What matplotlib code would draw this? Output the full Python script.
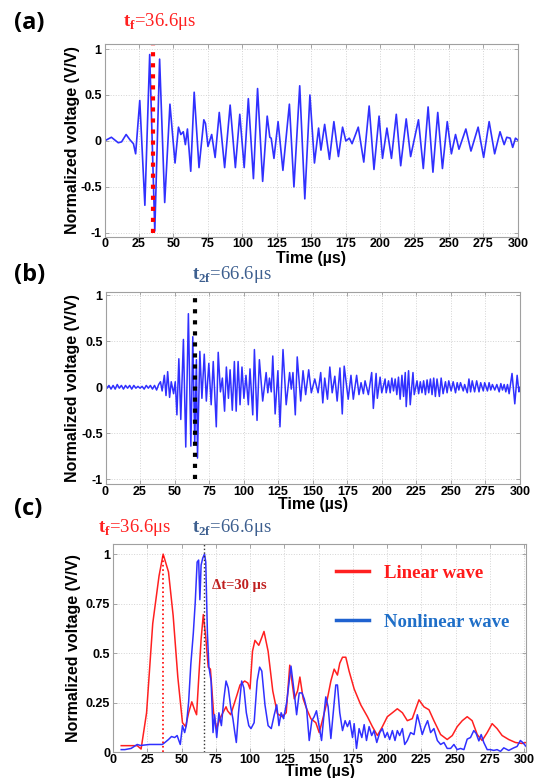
import matplotlib
matplotlib.use('Agg')
from matplotlib import pyplot as plt

plt.rcParams['mathtext.fontset'] = 'custom'
plt.rcParams['mathtext.rm'] = 'Liberation Serif'
plt.rcParams['mathtext.bf'] = 'Liberation Serif:bold'

SANS = 'Liberation Sans'
SERIF = 'Liberation Serif'

# ---- (a) linear wave, peaks/troughs ----
t_a = [0, 5, 10, 12.4, 15.7, 18.6, 21, 22.6, 25.6, 29.3, 32.8, 36.5, 40, 43.7, 47.5, 51.2,
       53.7, 55.4, 57.2, 58.7, 60.2, 62.6, 65.1, 68.6, 72.1, 73.3, 75.1, 77.8, 80.3, 83.3,
       87.2, 91.2, 95, 98.2, 101.4, 104.4, 108.1, 111.1, 114.8, 118.1, 120, 121, 123, 126,
       129.5, 134.2, 137.5, 141.7, 145.4, 149.1, 152.4, 155.4, 157.1, 159.8, 163.3, 166.5,
       169.8, 172.8, 175.2, 177.7, 179.7, 184.2, 188.2, 192.1, 195.6, 199.3, 201.8, 205,
       208.3, 211.8, 215, 219, 222.2, 227.9, 231.4, 234.9, 238.4, 241.9, 245.3, 248.8,
       251.8, 254.8, 257.3, 262.3, 266, 271.2, 275.2, 279.2, 283.2, 287.1, 290.1, 292,
       294.5, 296.3, 298.3, 300]
v_a = [0, 0.04, -0.02, -0.01, 0.07, 0.01, -0.03, -0.14, 0.44, -0.70, 0.94, -0.98, 0.89, -0.67,
       0.40, -0.24, 0.15, 0.07, 0.10, -0.04, 0.13, -0.33, 0.53, -0.29, 0.23, 0.19, -0.06,
       0.07, -0.18, 0.31, -0.29, 0.39, -0.29, 0.29, -0.29, 0.46, -0.41, 0.57, -0.44, 0.27,
       0.04, 0.03, -0.19, 0.21, -0.32, 0.40, -0.50, 0.60, -0.63, 0.50, -0.24, 0.14, -0.10,
       0.18, -0.20, 0.21, -0.17, 0.15, 0.00, 0.03, -0.03, 0.15, -0.23, 0.38, -0.31, 0.27,
       -0.19, 0.14, -0.19, 0.29, -0.27, 0.24, -0.17, 0.23, -0.30, 0.37, -0.34, 0.31, -0.30,
       0.21, -0.14, 0.07, -0.09, 0.13, -0.11, 0.15, -0.18, 0.21, -0.14, 0.10, -0.04, 0.04,
       0.03, -0.07, 0.03, 0.01]

# ---- (b) nonlinear wave ----
t_b_quiet = [0, 1.2, 2.5, 4, 5.5, 7, 8.5, 10, 11.5, 13, 14.5, 16, 17.5, 19, 20.5, 22, 23.5,
             25, 26.5, 28, 29.5, 31, 32.5, 34, 35.5, 37, 38.5]
v_b_quiet = [0.04, -0.01, 0.02, -0.02, 0.02, -0.02, 0.03, -0.01, 0.02, -0.02, 0.02, -0.01,
             0.02, -0.02, 0.02, -0.01, 0.01, -0.01, 0.01, -0.02, 0.02, -0.01, 0.02, -0.02,
             0.02, -0.03, 0.03]
t_b_burst = [39.8, 41, 42.6, 43.8, 45, 46.4, 47.6, 49.3, 50.5, 51.7, 53.1, 54.5, 56.4, 58.1,
             60, 61.8, 63.2, 64.6, 65.8, 66.6, 68.3, 69.8, 71.5, 73, 74.8, 76.5, 78, 80.2,
             81.6, 83.2, 84.6, 86.2, 87.5, 89, 90.2, 91.8, 93.3]
v_b_burst = [0.06, -0.04, 0.13, -0.09, 0.17, -0.11, 0.06, -0.07, 0.06, -0.30, 0.31, -0.35,
             0.52, -0.65, 0.80, -0.64, 0.55, -0.62, 0.30, -0.77, 0.39, -0.12, 0.36, -0.15,
             0.26, -0.19, 0.28, -0.43, 0.38, -0.05, 0.10, -0.26, 0.22, -0.12, 0.19, -0.25, 0.28]
t_b_mid = [94.6, 96, 97.4, 98.8, 100.2, 101.7, 103.4, 104.6, 106.6, 107.8, 109.7, 111.4, 113.8,
           116.3, 117.5, 118.7, 120, 121.1, 122.8, 124.8, 126.3, 128.5, 130.8, 133.3, 134.5,
           135.7, 137.4, 138.8, 141.3, 143, 144.9, 147.1, 149, 151.5, 153.9, 155.8, 157.3,
           158.7, 160.7, 162.4, 164.1, 166, 167.7, 169.7, 171.4, 172.8, 175.7, 177.7, 179.4,
           181.8, 183.5, 185, 186.7, 187.9, 190.3]
v_b_mid = [-0.26, 0.28, -0.19, 0.22, -0.12, 0.13, -0.19, 0.20, -0.30, 0.41, -0.36, 0.30, -0.15,
           0.16, -0.06, 0.10, -0.05, 0.34, -0.29, 0.18, -0.43, 0.41, -0.19, 0.16, -0.02, 0.16,
           -0.30, 0.33, -0.15, 0.18, -0.08, 0.19, -0.06, 0.09, -0.06, 0.16, -0.17, 0.10, -0.13,
           0.22, -0.06, 0.12, -0.15, 0.21, -0.29, 0.23, -0.13, 0.13, -0.13, 0.13, -0.08, 0.05,
           -0.07, 0.07, -0.08]
t_b_tail = [192.7, 193.9, 195.9, 196.8, 198.8, 200, 202.4, 203.2, 204.9, 206.1, 207.3, 208.5,
            209.7, 210.9, 212.1, 213.3, 214.6, 215.8, 217, 217.7, 219.4, 220.6, 222.6, 223.5,
            225.5, 226.7, 227.9, 229.1, 230.3, 231.6, 232.8, 234, 235.2, 236.4, 237.6, 238.8,
            240, 241.7, 243, 244.4, 246.1, 247.3, 248.5, 250.2, 251.7, 253.4, 254.6, 255.8,
            257, 259, 260, 261.9, 263.1, 264.3, 265.5, 267.2, 268.7, 270.4, 271.6, 273.5,
            274.5, 276.5, 277.7, 278.9, 280.1, 281.8, 283.3, 285, 286.2, 287.4, 288.6, 289.8,
            291, 292.2, 294.3, 296.3, 298, 299.3, 300]
v_b_tail = [0.16, -0.23, 0.15, -0.12, 0.11, -0.06, 0.09, -0.06, 0.07, -0.06, 0.10, -0.04, 0.09,
            -0.08, 0.11, -0.13, 0.13, -0.10, 0.16, -0.21, 0.18, -0.19, 0.16, -0.08, 0.07, -0.07,
            0.06, -0.06, 0.07, -0.08, 0.08, -0.06, 0.09, -0.08, 0.10, -0.10, 0.09, -0.10, 0.10,
            -0.07, 0.06, -0.06, 0.07, -0.04, 0.06, -0.06, 0.05, -0.03, 0.05, -0.04, 0.03, -0.06,
            0.09, -0.05, 0.07, -0.05, 0.07, -0.05, 0.05, -0.04, 0.05, -0.04, 0.05, -0.03, 0.03,
            -0.03, 0.03, -0.05, 0.04, -0.03, 0.03, -0.05, 0.03, -0.07, 0.15, -0.18, 0.13, -0.05,
            0.0]

# ---- (c) envelopes ----
t_c_lin = [6, 8.6, 17.7, 20.5, 24.5, 29, 33.6, 36.6, 40.5, 43.9, 47.3, 50.7, 53, 55.2, 57.5,
           59.8, 61, 62.7, 64.3, 65.9, 67.7, 69.5, 71.1, 73.4, 75.7, 78, 80.2, 82.5, 83.6,
           85.9, 88.2, 90.5, 92.7, 96.1, 98.4, 100, 101.8, 103.6, 106.4, 108.6, 110.2, 113.2,
           116.6, 120, 123.4, 126.4, 129, 132.3, 134.7, 136.4, 138.8, 141.3, 144.4, 148, 150.5,
           152.4, 155.3, 159, 161.4, 163.8, 165.5, 167.5, 169.9, 172.3, 176, 180.8, 185.7,
           189.3, 193, 196.6, 200.2, 203.9, 207.5, 211.2, 214.8, 218.4, 223.3, 226.9, 230.6,
           234.2, 239.1, 243.9, 247.6, 251.2, 254.9, 258.5, 262.1, 265.8, 269.4, 273.1, 276.7,
           280.3, 284, 288.8, 293.7, 298.5, 301.5]
v_c_lin = [0.034, 0.034, 0.034, 0.017, 0.20, 0.65, 0.89, 1.0, 0.91, 0.69, 0.38, 0.15, 0.13,
           0.20, 0.255, 0.21, 0.19, 0.39, 0.57, 0.695, 0.58, 0.43, 0.42, 0.20, 0.12, 0.17, 0.20,
           0.23, 0.21, 0.19, 0.24, 0.29, 0.34, 0.36, 0.35, 0.32, 0.51, 0.565, 0.54, 0.58, 0.61,
           0.51, 0.31, 0.195, 0.18, 0.20, 0.44, 0.27, 0.31, 0.38, 0.27, 0.22, 0.17, 0.15, 0.10,
           0.15, 0.23, 0.36, 0.42, 0.39, 0.45, 0.48, 0.48, 0.41, 0.32, 0.24, 0.18, 0.13, 0.085,
           0.13, 0.18, 0.20, 0.22, 0.20, 0.16, 0.17, 0.265, 0.23, 0.215, 0.16, 0.09, 0.065,
           0.085, 0.13, 0.16, 0.18, 0.16, 0.09, 0.06, 0.10, 0.145, 0.12, 0.085, 0.065, 0.05,
           0.045, 0.05]
t_c_nl = [6, 8.6, 13.2, 17.7, 20, 26.8, 35.9, 37, 40.5, 42.7, 45, 46.8, 49.1, 50.7, 52.3, 53.6,
          55.2, 56.8, 58.6, 60, 61.4, 62.5, 63.4, 64.3, 65.5, 66.8, 67.7, 68.9, 70, 71.6, 73,
          74.1, 75.7, 77.3, 79.1, 80.9, 82.5, 84.1, 85.9, 87.5, 88.9, 90, 91.6, 93.9, 95.5,
          97.3, 99.1, 100.7, 103, 105.2, 107, 108.6, 110.9, 113.2, 115.5, 117.7, 119.5, 121.1,
          122.7, 124.5, 126.8, 129.9, 132.3, 134, 135.9, 137.9, 139.6, 141.3, 143.2, 145.1,
          146.8, 148.5, 150.5, 152.2, 154.1, 155.3, 157, 159, 160.7, 162.6, 163.8, 165.5,
          167.5, 169.4, 171.1, 172.8, 174.8, 176, 177.7, 179.6, 181.6, 183.3, 185, 186.9,
          188.8, 190.5, 192.5, 194.7, 196.6, 198.5, 200.2, 201.9, 203.9, 205.8, 207.5, 209.2,
          211.2, 212.9, 214.8, 217.2, 219.7, 222.1, 223.8, 225.7, 227.7, 229.6, 231.8, 234.2,
          236.7, 239.1, 241.5, 243.9, 246.4, 248.8, 251.2, 253.6, 256.1, 258.5, 260.9, 263.3,
          265, 267, 268.7, 270.6, 273.1, 275.5, 277.9, 280.3, 282.8, 285.2, 288.8, 292.5,
          294.9, 297.3, 299, 301.5]
v_c_nl = [0.014, 0.014, 0.02, 0.04, 0.035, 0.04, 0.04, 0.045, 0.065, 0.08, 0.075, 0.085, 0.04,
          0.135, 0.10, 0.14, 0.255, 0.445, 0.60, 0.755, 0.96, 0.97, 0.77, 0.945, 0.98, 1.0,
          0.96, 0.60, 0.43, 0.36, 0.10, 0.19, 0.075, 0.20, 0.135, 0.27, 0.36, 0.325, 0.23,
          0.17, 0.10, 0.05, 0.20, 0.36, 0.325, 0.20, 0.135, 0.12, 0.15, 0.36, 0.43, 0.41, 0.24,
          0.135, 0.12, 0.19, 0.24, 0.135, 0.20, 0.17, 0.255, 0.435, 0.30, 0.19, 0.30, 0.30,
          0.27, 0.22, 0.06, 0.16, 0.18, 0.21, 0.13, 0.06, 0.20, 0.28, 0.23, 0.07, 0.20, 0.34,
          0.34, 0.20, 0.11, 0.16, 0.13, 0.16, 0.075, 0.145, 0.02, 0.12, 0.075, 0.14, 0.06,
          0.13, 0.085, 0.11, 0.05, 0.10, 0.12, 0.075, 0.10, 0.065, 0.11, 0.06, 0.11, 0.085,
          0.12, 0.04, 0.06, 0.10, 0.09, 0.19, 0.145, 0.09, 0.13, 0.16, 0.10, 0.12, 0.06, 0.04,
          0.05, 0.02, 0.02, 0.04, 0.014, 0.02, 0.014, 0.067, 0.075, 0.11, 0.096, 0.058, 0.09,
          0.05, 0.014, 0.014, 0.01, 0.014, 0.005, 0.023, 0.01, 0.023, 0.03, 0.06, 0.05, 0.03]

x_ticks = list(range(0, 301, 25))
t_first = 36.6      # µs
t_second = 66.6     # µs

WAVE_BLUE = '#3030ff'
RED = '#ff2020'


def style_axes(ax, xlim, ylim, yticks, yticklabels, ylab_x, xlab_y):
    ax.set_xlim(*xlim)
    ax.set_ylim(*ylim)
    ax.set_xticks(x_ticks)
    ax.set_xticklabels([str(t) for t in x_ticks], fontfamily=SANS, fontweight='bold', fontsize=9)
    ax.set_yticks(yticks)
    ax.set_yticklabels(yticklabels, fontfamily=SANS, fontweight='bold', fontsize=9)
    ax.grid(True, color='#d4d4d4', linestyle=':', linewidth=0.7)
    ax.tick_params(direction='in', length=3, width=0.6, color='#999999',
                   top=True, right=True)
    ax.tick_params(axis='x', pad=1.0)
    ax.tick_params(axis='y', pad=2.0)
    for s in ax.spines.values():
        s.set_color('#a0a0a0')
        s.set_linewidth(0.8)
    ax.set_ylabel('Normalized voltage (V/V)', fontfamily=SANS, fontweight='bold', fontsize=11.5)
    ax.set_xlabel('Time (µs)', fontfamily=SANS, fontweight='bold', fontsize=11.5)
    ax.yaxis.set_label_coords(ylab_x, 0.5)
    ax.xaxis.set_label_coords(0.5, xlab_y)


fig = plt.figure(figsize=(5.37, 7.78), dpi=100)
W, H = 537.0, 778.0


def add_axes(left, top, right, bottom):
    return fig.add_axes([left / W, 1 - bottom / H, (right - left) / W, (bottom - top) / H])


# (a)
ax_a = add_axes(104.5, 43.5, 517.8, 237)
ax_a.plot(t_a, v_a, color=WAVE_BLUE, lw=1.2)
ax_a.vlines(35, -1, 1.06, colors='red', linestyles=':', linewidth=3)
style_axes(ax_a, (0, 300), (-1.045, 1.06), [-1, -0.5, 0, 0.5, 1],
           ['-1', '-0.5', '0', '0.5', '1'], -0.059, -0.07)

# (b)
ax_b = add_axes(105.5, 291.8, 519.9, 484.3)
ax_b.plot(t_b_quiet + t_b_burst + t_b_mid + t_b_tail,
          v_b_quiet + v_b_burst + v_b_mid + v_b_tail, color=WAVE_BLUE, lw=1.1)
ax_b.vlines(65, -1, 1.038, colors='black', linestyles=':', linewidth=3)
style_axes(ax_b, (0, 300), (-1.055, 1.038), [-1, -0.5, 0, 0.5, 1],
           ['-1', '-0.5', '0', '0.5', '1'], -0.061, -0.068)

# (c)
ax_c = add_axes(113, 543.8, 526.4, 752.4)
l1, = ax_c.plot(t_c_lin, v_c_lin, color=RED, lw=1.1, label='Linear wave')
l2, = ax_c.plot(t_c_nl, v_c_nl, color=WAVE_BLUE, lw=1.1, label='Nonlinear wave')
ax_c.vlines(t_first, 0, 1.0, colors='red', linestyles=':', linewidth=1.2)
ax_c.vlines(t_second, 0, 1.052, colors='#333333', linestyles=':', linewidth=1.0)
style_axes(ax_c, (5.9, 301.7), (0, 1.052), [0, 0.25, 0.5, 0.75, 1],
           ['0', '0.25', '0.5', '0.75', '1'], -0.078, -0.058)

leg = ax_c.legend(handles=[l1, l2], loc='upper left', bbox_to_anchor=(0.54, 0.90),
                  frameon=False, prop={'family': SERIF, 'weight': 'bold', 'size': 13.5},
                  handlelength=1.75, handletextpad=0.8, labelspacing=1.7,
                  borderpad=0, borderaxespad=0)
for line, col in zip(leg.get_lines(), ['#ff2020', '#1f62d0']):
    line.set_linewidth(2.5)
    line.set_color(col)
for txt, col in zip(leg.get_texts(), ['#ff1a1a', '#1f6fc8']):
    txt.set_color(col)

ax_c.text(0.24, 0.80, 'Δt=30 µs', transform=ax_c.transAxes, fontfamily=SERIF,
          fontweight='bold', fontsize=10.5, color='#c02020', va='center')

# panel letters
for lab, y in [('(a)', 23), ('(b)', 274.5), ('(c)', 509)]:
    fig.text(14 / W, 1 - y / H, lab, fontfamily='Open Sans', fontweight='bold',
             fontsize=17, va='center', ha='left')

# arrival-time labels
TF = r'$\mathbf{t}_{\mathbf{f}}$=%.1fμs' % t_first
T2F = r'$\mathbf{t}_{\mathbf{2f}}$=%.1fμs' % t_second
fig.text(123 / W, 1 - 22 / H, TF, fontfamily=SERIF, fontsize=13.5, color=RED, va='center')
fig.text(192 / W, 1 - 274 / H, T2F, fontfamily=SERIF, fontsize=13.5, color='#3d5f8f',
         va='center')
fig.text(97.6 / W, 1 - 527 / H, TF, fontfamily=SERIF, fontsize=13.5, color=RED, va='center')
fig.text(192 / W, 1 - 527 / H, T2F, fontfamily=SERIF, fontsize=13.5, color='#3d5f8f',
         va='center')

fig.savefig('out.png', dpi=100)
